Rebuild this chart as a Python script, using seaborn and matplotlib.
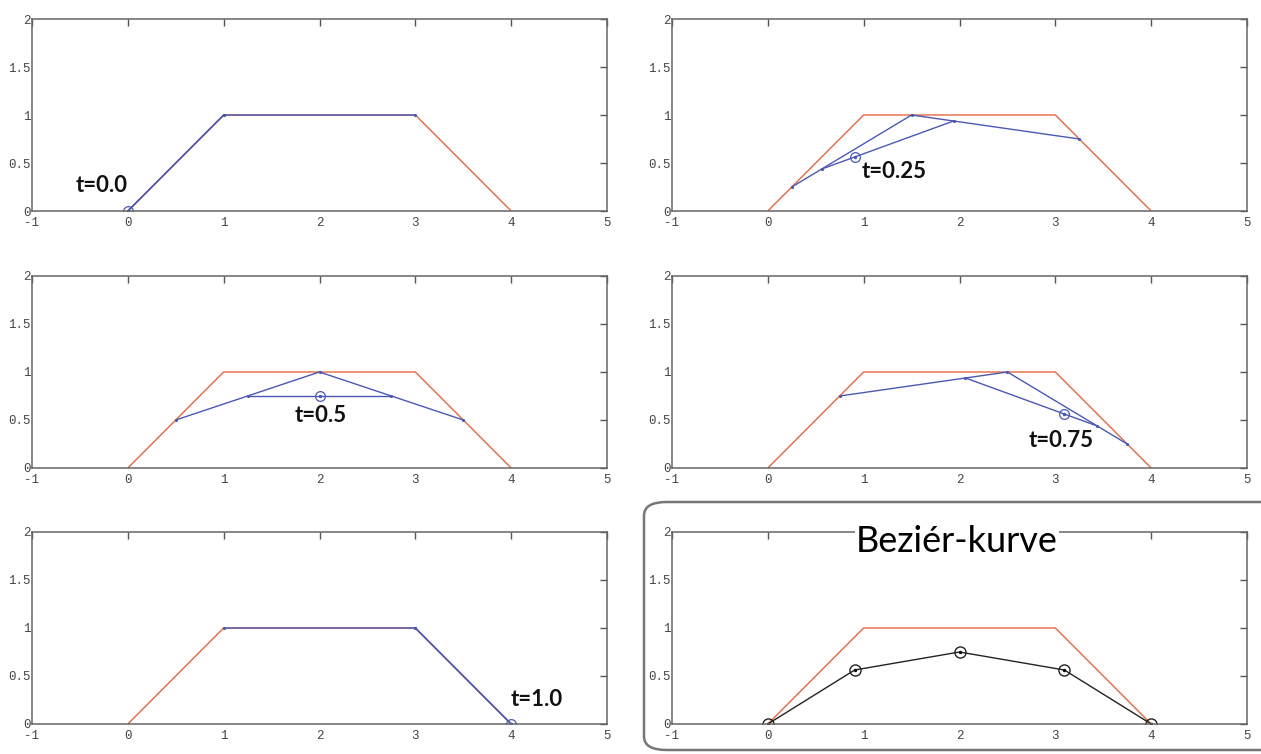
import numpy as np
import pandas as pd
import seaborn as sns
import matplotlib.pyplot as plt
from matplotlib.patches import FancyBboxPatch
from matplotlib.ticker import FormatStrFormatter

# kontrollpolygon
ctrl_x = [0, 1, 3, 4]
ctrl_y = [0, 1, 1, 0]

# de Casteljau-konstruksjon, avlest for hver t
t_labels = ['t=0.0', 't=0.25', 't=0.5', 't=0.75', 't=1.0']
lvl1_x = [[0, 1, 3], [0.25, 1.5, 3.25], [0.5, 2, 3.5], [0.75, 2.5, 3.75], [1, 3, 4]]
lvl1_y = [[0, 1, 1], [0.25, 1, 0.75], [0.5, 1, 0.5], [0.75, 1, 0.25], [1, 1, 0]]
lvl2_x = [[0, 1], [0.5625, 1.9375], [1.25, 2.75], [2.0625, 3.4375], [3, 4]]
lvl2_y = [[0, 1], [0.4375, 0.9375], [0.75, 0.75], [0.9375, 0.4375], [1, 0]]
pt_x = [0, 0.906, 2, 3.094, 4]
pt_y = [0, 0.5625, 0.75, 0.5625, 0]

# tekstplassering (dataenheter)
lab_x = [-0.54, 0.98, 1.74, 2.72, 3.99]
lab_y = [0.27, 0.41, 0.55, 0.29, 0.25]

RED = '#e4673f'
BLUE = '#4b58b4'

sns.set_style('white')
plt.rcParams['font.family'] = ['Lato', 'DejaVu Sans']
plt.rcParams['axes.unicode_minus'] = False

fig = plt.figure(figsize=(12.61, 7.54), dpi=100)

lefts = [32 / 1261, 672 / 1261]
bottoms = [1 - 211 / 754, 1 - 468 / 754, 1 - 724 / 754]
w = 575 / 1261
h = 192 / 754
# rekkefølge: venstre/høyre per rad
slots = [(0, 0), (1, 0), (0, 1), (1, 1), (0, 2), (1, 2)]


def style_ax(ax):
    ax.set_xlim(-1, 5)
    ax.set_ylim(0, 2)
    ax.set_xticks(range(-1, 6))
    ax.set_yticks([0, 0.5, 1, 1.5, 2])
    ax.yaxis.set_major_formatter(FormatStrFormatter('%g'))
    ax.tick_params(direction='in', length=5, width=1, color='#555555',
                   top=True, right=True, labelsize=9, labelcolor='#444444')
    ax.tick_params(axis='y', pad=1)
    ax.tick_params(axis='x', pad=4.5)
    for lab in ax.get_xticklabels() + ax.get_yticklabels():
        lab.set_family('Liberation Mono')
    for s in ax.spines.values():
        s.set_color('#666666')
        s.set_linewidth(1.1)
    ax.set_xlabel('')
    ax.set_ylabel('')


def line(ax, x, y, color, lw=1.0, marker='.', ms=3):
    df = pd.DataFrame({'x': x, 'y': y})
    sns.lineplot(data=df, x='x', y='y', sort=False, estimator=None, ax=ax,
                 color=color, lw=lw, marker=marker, markersize=ms,
                 markeredgecolor=color)


for i in range(5):
    c, r = slots[i]
    ax = fig.add_axes([lefts[c], bottoms[r], w, h])
    line(ax, ctrl_x, ctrl_y, RED, marker=None)
    line(ax, lvl1_x[i], lvl1_y[i], BLUE)
    line(ax, lvl2_x[i], lvl2_y[i], BLUE)
    ax.plot(pt_x[i], pt_y[i], 'o', mfc='none', mec=BLUE, ms=7, mew=0.9)
    ax.plot(pt_x[i], pt_y[i], '.', color=BLUE, ms=3)
    ax.text(lab_x[i], lab_y[i], t_labels[i], fontsize=16, fontweight='bold',
            va='center', ha='left', color='#111111')
    style_ax(ax)

# Bezier-kurven
c, r = slots[5]
ax = fig.add_axes([lefts[c], bottoms[r], w, h])
line(ax, ctrl_x, ctrl_y, RED, marker=None)
df = pd.DataFrame({'x': pt_x, 'y': pt_y})
sns.lineplot(data=df, x='x', y='y', sort=False, estimator=None, ax=ax,
             color='#222222', lw=1.0, marker='o', markersize=8,
             markerfacecolor='none', markeredgecolor='#222222', markeredgewidth=1.0)
ax.plot(pt_x, pt_y, '.', color='#111111', ms=3)
style_ax(ax)

fig.text(957 / 1261, 1 - 541 / 754, 'Beziér-kurve', fontsize=26,
         ha='center', va='center', color='black',
         bbox=dict(facecolor='white', edgecolor='none', pad=1))

box = FancyBboxPatch((644 / 1261, 4 / 754), 640 / 1261, 248 / 754,
                     boxstyle='round,pad=0,rounding_size=0.018',
                     transform=fig.transFigure, fill=False,
                     edgecolor='#777777', linewidth=1.8, clip_on=False)
fig.patches.append(box)

fig.savefig('out.png', dpi=100)
